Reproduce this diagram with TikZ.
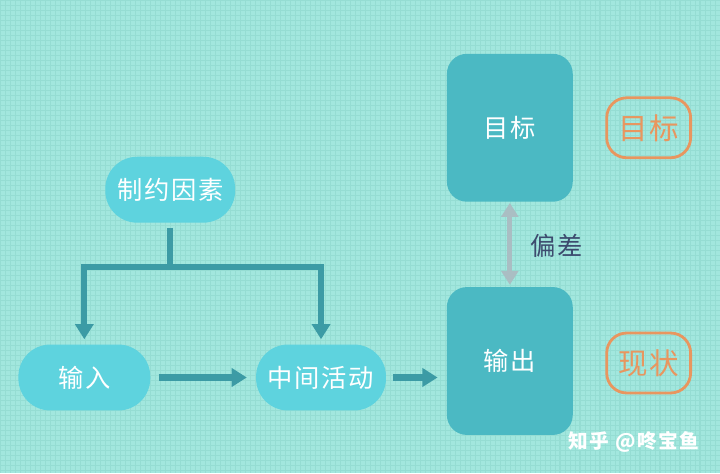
\documentclass[tikz,border=0pt]{standalone}
\usepackage{fontspec}
\newfontfamily\cjk[LetterSpace=7]{Noto Sans CJK SC}
\usetikzlibrary{arrows.meta}
\definecolor{bgteal}{HTML}{A2E7DE}
\definecolor{gridteal}{HTML}{95DDD3}
\definecolor{pillcyan}{HTML}{5ED3DE}
\definecolor{boxteal}{HTML}{4BB9C3}
\definecolor{arrowteal}{HTML}{3C9BA5}
\definecolor{devgray}{HTML}{AABEC3}
\definecolor{tagorange}{HTML}{E8965F}
\definecolor{labelnavy}{HTML}{3C4B6E}

\begin{document}
\begin{tikzpicture}[x=0.025cm, y=-0.025cm,
            pill/.style={rectangle, fill=pillcyan, rounded corners=0.8cm, minimum height=1.65cm, text=white, font=\cjk\fontsize{18}{21}\selectfont},
            block/.style={rectangle, fill=boxteal, rounded corners=0.5cm, minimum width=3.15cm, minimum height=3.7cm, text=white, font=\cjk\fontsize{18}{21}\selectfont},
            tag/.style={rectangle, draw=tagorange, line width=2pt, rounded corners=0.5cm, minimum width=2.1cm, minimum height=1.5cm, text=tagorange, font=\cjk\fontsize{21}{24}\selectfont},
            arrow/.style={-{Triangle[length=0.38cm, width=0.45cm]}, draw=arrowteal, line width=4.5pt},
            bar/.style={draw=arrowteal, line width=4.5pt},
            twoway/.style={{Triangle[length=0.35cm, width=0.42cm]}-{Triangle[length=0.35cm, width=0.42cm]}, draw=devgray, line width=3.6pt}
        ]
            % background and faint grid
            \fill[bgteal] (0,0) rectangle (720,473);
            \draw[gridteal, line width=0.2pt, step=0.125cm] (0,0) grid (720,473);
            \draw[gridteal, line width=0.6pt, step=0.5cm] (0,0) grid (720,473);

            \node[pill, minimum width=3.25cm] (constraint) at (170,189.5) {制约因素};
            \node[pill, minimum width=3.3cm] (input) at (84,377.5) {输入};
            \node[pill, minimum width=3.25cm] (middle) at (321,377.5) {中间活动};
            \node[block] (goal) at (510,127.5) {目标};
            \node[block] (output) at (510,361) {输出};
            \node[tag] (goaltag) at (649,127.5) {目标};
            \node[tag] (nowtag) at (649,363) {现状};
            \node[font=\cjk\fontsize{18}{21}\selectfont, text=labelnavy] (deviation) at (557,246) {偏差};
            \node[font=\cjk\fontsize{14}{16}\selectfont\bfseries, text=white] (mark) at (634,442) {知乎 @咚宝鱼};

            \coordinate (split) at (170,267);
            \draw[bar, shorten <=5*0.025cm] (constraint.south) -- (split);
            \draw[arrow, shorten >=5*0.025cm] (split) -| (input.north);
            \draw[arrow, shorten >=5*0.025cm] (split) -| (middle.north);
            \draw[arrow, shorten <=8*0.025cm, shorten >=9*0.025cm] (input) -- (middle);
            \draw[arrow, shorten <=7*0.025cm, shorten >=9*0.025cm] (middle.east) -- (middle.east -| output.west);
            \draw[twoway, shorten <=1*0.025cm, shorten >=2*0.025cm] (goal) -- (output);
        \end{tikzpicture}
\end{document}
